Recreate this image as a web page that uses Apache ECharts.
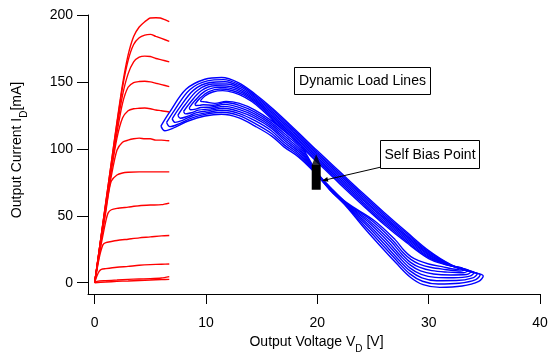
<!DOCTYPE html>
<html><head><meta charset="utf-8">
<script src="https://cdn.jsdelivr.net/npm/echarts@6/dist/echarts.min.js"></script>
<style>html,body{margin:0;padding:0;background:#fff}#c{width:550px;height:353px}</style>
</head><body><div id="c"></div>
<script>
const xTicks = [0, 10, 20, 30, 40];
const yTicks = [0, 50, 100, 150, 200];
const xTitle = ['Output Voltage V', 'D', ' [V]'];
const yTitle = ['Output Current I', 'D', '[mA]'];

// DC I-V characteristics (red)
const ivCurve1 = [[0,0],[0.5,30],[1,60],[1.5,90],[2,120],[2.5,148],[3,170],[3.5,184],[4,191],[4.5,195],[5,197.8],[5.5,198],[5.9,197.8],[6.3,196.5],[6.7,195]];
const ivCurve2 = [[0,0],[0.5,30],[1,60],[1.5,90],[2,119],[2.5,146],[3,166],[3.5,178],[4,183],[4.5,185],[5,185.5],[5.5,184],[6,182.5],[6.7,180.3]];
const ivCurve3 = [[0,0],[0.5,30],[1,59],[1.5,88],[2,116],[2.5,140],[3,156],[3.5,165],[4,168.5],[4.5,169.3],[5,169],[5.5,167.5],[6,166.5],[6.7,165]];
const ivCurve4 = [[0,0],[0.5,29],[1,58],[1.5,86],[2,112],[2.5,134],[3,146],[3.5,149.5],[4,150.3],[4.5,150.5],[5,150],[5.5,149],[6,148],[6.7,146.5]];
const ivCurve5 = [[0,0],[0.5,29],[1,57],[1.5,84],[2,108],[2.5,123],[3,128.5],[3.5,130],[4,130.3],[4.5,130.5],[5,130],[5.5,129],[6,128.5],[6.7,127.5]];
const ivCurve6 = [[0,0],[0.5,28],[1,55],[1.5,80],[2,99],[2.5,105],[3,106.5],[3.5,107.5],[4,108],[4.5,107.5],[5,107.5],[5.5,106.5],[6,106.5],[6.7,106]];
const ivCurve7 = [[0,0],[0.5,27],[1,53],[1.25,67],[1.5,76],[2,80.5],[2.5,82],[3,82.5],[4,82.8],[5,82.8],[6,82.8],[6.7,82.8]];
const ivCurve8 = [[0,0],[0.5,25],[0.8,38],[1,46],[1.2,52],[1.5,54.5],[2,55.5],[3,56.5],[4,57.5],[5,58],[6,58.3],[6.7,59.5]];
const ivCurve9 = [[0,0],[0.3,14],[0.5,22],[0.75,28.5],[1,30],[1.5,30.8],[2,31.5],[3,32.5],[4,33.5],[5,34.2],[6,35],[6.7,35.3]];
const ivCurve10 = [[0,0],[0.2,5],[0.4,8.5],[0.6,10],[1,10.5],[2,11.5],[3,12.2],[4,13],[5,13.5],[6,13.8],[6.7,14]];
const ivCurve11 = [[0,0],[0.2,1],[1,1.5],[2,2],[3,2.5],[4,2.8],[5,3],[6,3.5],[6.7,4.5]];
const ivCurve12 = [[0,0],[1,0.5],[2,1],[3,1.3],[4,1.7],[5,2],[6,2.3],[6.7,2.5]];

// Dynamic load lines (blue loops), outer to inner
const loop1 = [[5.95,117],[6.7,127],[8.2,144.5],[9.9,152],[11.4,153.3],[12.9,149.5],[14.4,141],[16,130],[18,114.5],[20,98.5],[22,83],[24,67.5],[26,52.5],[28,38],[30,24],[32,13.5],[33.8,8],[34.9,5],
[34.5,1],[33,-2.5],[31,-3.5],[29.5,-1.5],[28.3,4.5],[27.1,14.5],[25.6,28],[24.1,42],[22.6,57],[21.1,69.5],[19.8,82],[18.3,94],[17,101.5],[15.9,109.5],[14.4,117],[12.9,123.3],[11.4,125.8],[9.9,124.5],[8.4,120.8],[7.2,116],[6.3,113.5],[5.95,117]];
const loop2 = [[6.46,119.7],[7.16,128.8],[8.54,144.2],[10.13,150.8],[11.56,151.7],[12.99,147.9],[14.41,139.9],[16,128.8],[18,113.3],[20,97.3],[22,81.7],[24,66.2],[26,51.2],[28,36.9],[30,23.1],[31.93,13.5],[33.61,8.6],[34.63,5.9],
[34.23,2.3],[32.74,-0.4],[30.86,-1],[29.44,1.1],[28.31,6.6],[27.2,15.9],[25.8,28.6],[24.24,42.6],[22.6,57.4],[21.11,69.7],[19.83,82],[18.34,95],[17.03,103],[15.89,111.5],[14.4,119],[12.91,125],[11.46,127.3],[10.03,125.9],[8.63,122.8],[7.57,118.7],[6.76,116.6],[6.46,119.7]];
const loop3 = [[6.96,122.4],[7.61,130.6],[8.89,143.9],[10.36,149.6],[11.71,150.1],[13.07,146.4],[14.43,138.7],[16,127.6],[18,112.1],[20,96.1],[22,80.4],[24,64.9],[26,49.9],[28,35.7],[30,22.3],[31.86,13.5],[33.43,9.1],[34.36,6.7],
[33.96,3.6],[32.49,1.6],[30.71,1.5],[29.39,3.6],[28.33,8.8],[27.3,17.2],[26.0,29.1],[24.39,43.3],[22.6,57.9],[21.13,69.9],[19.86,82],[18.39,96],[17.06,104.5],[15.87,113.5],[14.4,121],[12.93,126.5],[11.51,128.8],[10.16,127.2],[8.86,124.9],[7.94,121.5],[7.23,119.8],[6.96,122.4]];
const loop4 = [[7.47,125.1],[8.07,132.4],[9.23,143.6],[10.59,148.4],[11.87,148.5],[13.16,144.8],[14.44,137.6],[16,126.4],[18,110.9],[20,94.9],[22,79.1],[24,63.6],[26,48.6],[28,34.6],[30,21.4],[31.79,13.5],[33.24,9.7],[34.09,7.6],
[33.69,4.9],[32.23,3.7],[30.57,4],[29.33,6.2],[28.34,10.9],[27.4,18.6],[26.2,29.7],[24.53,43.9],[22.6,58.3],[21.14,70.1],[19.89,82],[18.43,97],[17.09,106],[15.86,115.5],[14.4,123],[12.94,128],[11.57,130.3],[10.29,128.6],[9.09,126.9],[8.31,124.2],[7.69,122.9],[7.47,125.1]];
const loop5 = [[7.98,127.9],[8.53,134.1],[9.57,143.4],[10.81,147.1],[12.03,146.8],[13.24,143.2],[14.46,136.4],[16,125.1],[18,109.6],[20,93.6],[22,77.9],[24,62.4],[26,47.4],[28,33.4],[30,20.6],[31.71,13.5],[33.06,10.3],[33.81,8.4],
[33.41,6.1],[31.97,5.8],[30.43,6.5],[29.27,8.8],[28.36,13.1],[27.5,19.9],[26.4,30.3],[24.67,44.6],[22.6,58.7],[21.16,70.4],[19.91,82],[18.47,98],[17.11,107.5],[15.84,117],[14.4,124.5],[12.96,129.5],[11.63,131.7],[10.41,129.9],[9.31,128.9],[8.69,127],[8.16,126.1],[7.98,127.9]];
const loop6 = [[8.49,130.6],[8.99,135.9],[9.91,143.1],[11.04,145.9],[12.19,145.2],[13.33,141.6],[14.47,135.3],[16,123.9],[18,108.4],[20,92.4],[22,76.6],[24,61.1],[26,46.1],[28,32.3],[30,19.7],[31.64,13.5],[32.87,10.9],[33.54,9.3],
[33.14,7.4],[31.71,7.9],[30.29,9],[29.21,11.4],[28.37,15.2],[27.6,21.3],[26.6,30.9],[24.81,45.2],[22.6,59.1],[21.17,70.6],[19.94,82],[18.51,99],[17.14,109],[15.83,118.5],[14.4,126],[12.97,131],[11.69,133.2],[10.54,131.3],[9.54,130.9],[9.06,129.7],[8.62,129.2],[8.49,130.6]];
const loop7 = [[9.0,133.3],[9.44,137.7],[10.26,142.8],[11.27,144.7],[12.34,143.6],[13.41,140.1],[14.49,134.1],[16,122.7],[18,107.2],[20,91.2],[22,75.3],[24,59.8],[26,44.8],[28,31.1],[30,18.9],[31.57,13.5],[32.69,11.4],[33.27,10.1],
[32.87,8.7],[31.46,9.9],[30.14,11.5],[29.16,13.9],[28.39,17.4],[27.7,22.6],[26.8,31.4],[24.96,45.9],[22.6,59.6],[21.19,70.8],[19.97,82],[18.56,100],[17.17,110.5],[15.81,120],[14.4,127.5],[12.99,132.5],[11.74,134.6],[10.67,132.6],[9.77,133],[9.43,132.5],[9.09,132.4],[9.0,133.3]];
const loop8 = [[9.5,136],[9.9,139.5],[10.6,142.5],[11.5,143.5],[12.5,142],[13.5,138.5],[14.5,133],[16,121.5],[18,106],[20,90],[22,74],[24,58.5],[26,43.5],[28,30],[30,18],[31.5,13.5],[32.5,12],[33,11],
[32.6,10],[31.2,12],[30,14],[29.1,16.5],[28.4,19.5],[27.8,24],[27,32],[25.1,46.5],[22.6,60],[21.2,71],[20,82],[18.6,101],[17.2,112],[15.8,121.5],[14.4,129],[13,134],[11.8,135.5],[10.8,134],[10,135],[9.8,135.2],[9.55,135.5],[9.5,136]];

// Self bias point
const biasBar = [[19.9,69.5],[19.9,88]];
const biasTip = [[19.9,91.8]];

const FONT = '"Liberation Sans", Arial, sans-serif';
const redCurves = [ivCurve1,ivCurve2,ivCurve3,ivCurve4,ivCurve5,ivCurve6,ivCurve7,ivCurve8,ivCurve9,ivCurve10,ivCurve11,ivCurve12];
const blueLoops = [loop1,loop2,loop3,loop4,loop5,loop6,loop7,loop8];

const series = [];
blueLoops.forEach(d => series.push({type:'line', data:d, showSymbol:false, smooth:0.35, silent:true,
  lineStyle:{color:'#0000ff', width:1.4}}));
redCurves.forEach(d => series.push({type:'line', data:d, showSymbol:false, smooth:0.25, silent:true,
  lineStyle:{color:'#ff0000', width:1.4}}));
series.push({type:'line', data:biasBar, showSymbol:false, silent:true, lineStyle:{color:'#000', width:9, cap:'butt'}, z:5});
series.push({type:'scatter', data:biasTip, symbol:'triangle', symbolSize:[9,11], itemStyle:{color:'#000'}, silent:true, z:5});

// axis titles with subscripts, laid out with measured widths
const mctx = document.createElement('canvas').getContext('2d');
function tw(t, size){ mctx.font = size + 'px ' + FONT; return mctx.measureText(t).width; }
function titleParts(parts, subDy){
  const sizes = [14, 10, 14];
  const widths = parts.map((p,i)=>tw(p, sizes[i]));
  const total = widths.reduce((a,b)=>a+b,0);
  let x = -total/2;
  return parts.map((p,i)=>{
    const el = {type:'text', x:x, y:(i===1?subDy:0), style:{text:p, font:sizes[i]+'px '+FONT, fill:'#000', align:'left', verticalAlign:'middle'}};
    x += widths[i];
    return el;
  });
}

const chart = echarts.init(document.getElementById('c'));
chart.setOption({
  animation:false,
  backgroundColor:'#fff',
  grid:{left:88, right:10, top:15, bottom:59, containLabel:false, outerBoundsMode:'none'},
  xAxis:{type:'value', min:-0.6, max:40,
    axisLine:{onZero:false, lineStyle:{color:'#000', width:1}},
    axisTick:{customValues:xTicks, length:10, lineStyle:{color:'#000', width:1}},
    axisLabel:{customValues:xTicks, margin:22, color:'#000', fontSize:14, fontFamily:FONT},
    splitLine:{show:false}
  },
  yAxis:{type:'value', min:-8.44, max:200,
    axisLine:{onZero:false, lineStyle:{color:'#000', width:1}},
    axisTick:{customValues:yTicks, length:11, lineStyle:{color:'#000', width:1}},
    axisLabel:{customValues:yTicks, margin:15, color:'#000', fontSize:14, fontFamily:FONT},
    splitLine:{show:false}
  },
  series:series,
  graphic:[
    {type:'group', x:316.5, y:342, children:titleParts(xTitle, 7)},
    {type:'group', x:17.5, y:150, rotation:Math.PI/2, children:titleParts(yTitle, 7)},
    {type:'rect', shape:{x:294.5, y:67.5, width:136, height:27}, style:{fill:'#fff', stroke:'#000', lineWidth:1}, z:100},
    {type:'text', x:362.5, y:81.5, style:{text:'Dynamic Load Lines', font:'14px '+FONT, fill:'#000', align:'center', verticalAlign:'middle'}, z:101},
    {type:'rect', shape:{x:380.5, y:140.5, width:99, height:28}, style:{fill:'#fff', stroke:'#000', lineWidth:1}, z:100},
    {type:'text', x:430, y:155, style:{text:'Self Bias Point', font:'14px '+FONT, fill:'#000', align:'center', verticalAlign:'middle'}, z:101},
    {type:'line', shape:{x1:380, y1:167.3, x2:324, y2:180.3}, style:{stroke:'#000', lineWidth:1}, z:100},
    {type:'polygon', shape:{points:[[322,180.7],[328.4,181.8],[327.3,176.9]]}, style:{fill:'#000'}, z:100}
  ]
});
</script>
</body></html>
